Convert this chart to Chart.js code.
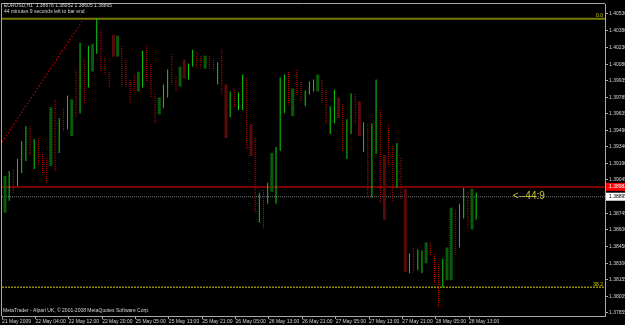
<!DOCTYPE html>
<html>
<head>
<meta charset="utf-8">
<script src="https://cdn.jsdelivr.net/npm/chart.js@4.4.0/dist/chart.umd.min.js"></script>
<style>
  html, body { margin: 0; padding: 0; background: #000; }
</style>
</head>
<body>
<canvas id="chart" width="625" height="325"></canvas>
<script>
// EURUSD H1 bars (one entry per hourly bar)
const barHigh = [
  1.39081, 1.39126, 1.39144, 1.39232, 1.39392, 1.39526, 1.39526, 1.39410, 1.39419, 1.39286,
  1.39250, 1.39695, 1.39766, 1.39597, 1.39686, 1.39801, 1.39766, 1.40041, 1.40272, 1.40130,
  1.40246, 1.40263, 1.40486, 1.40397, 1.40148, 1.40014, 1.40344, 1.40335, 1.40246, 1.40121,
  1.39944, 1.39988, 1.40014, 1.40201, 1.40255, 1.40086, 1.39819, 1.39783, 1.39899, 1.40032,
  1.40175, 1.39970, 1.40059, 1.40121, 1.40086, 1.40210, 1.40192, 1.40157, 1.40157, 1.40157,
  1.40130, 1.40095, 1.40219, 1.39899, 1.39837, 1.39864, 1.39828, 1.39988, 1.39961, 1.39544,
  1.39428, 1.38930, 1.38957, 1.39019, 1.39286, 1.39339, 1.39961, 1.39988, 1.40014, 1.39864,
  1.40032, 1.39926, 1.39846, 1.39926, 1.39944, 1.39988, 1.39944, 1.39846, 1.39704, 1.39855,
  1.39783, 1.39730, 1.39587, 1.39819, 1.39819, 1.39748, 1.39561, 1.39544, 1.39552, 1.39944,
  1.39677, 1.39268, 1.39544, 1.39357, 1.39375, 1.39241, 1.38966, 1.38388, 1.38441, 1.38423,
  1.38414, 1.38486, 1.38486, 1.38388, 1.38308, 1.38343, 1.38441, 1.38797, 1.38779, 1.38832,
  1.38974, 1.38948, 1.38966, 1.38930
];
const barLow = [
  1.38752, 1.38859, 1.38930, 1.38992, 1.39108, 1.39214, 1.39259, 1.39144, 1.39170, 1.39108,
  1.39019, 1.39170, 1.39126, 1.39286, 1.39481, 1.39499, 1.39437, 1.39606, 1.39641, 1.39730,
  1.39872, 1.40014, 1.40175, 1.40014, 1.39988, 1.39872, 1.40148, 1.40148, 1.39881, 1.39881,
  1.39730, 1.39837, 1.39837, 1.39872, 1.39926, 1.39783, 1.39552, 1.39632, 1.39686, 1.39783,
  1.39899, 1.39837, 1.39881, 1.39952, 1.39944, 1.40059, 1.40041, 1.40041, 1.40041, 1.40041,
  1.40024, 1.39899, 1.39810, 1.39419, 1.39606, 1.39686, 1.39668, 1.39668, 1.39312, 1.39259,
  1.38752, 1.38664, 1.38610, 1.38832, 1.38939, 1.38832, 1.39303, 1.39641, 1.39721, 1.39615,
  1.39810, 1.39748, 1.39704, 1.39810, 1.39837, 1.39837, 1.39739, 1.39544, 1.39455, 1.39552,
  1.39597, 1.39303, 1.39232, 1.39455, 1.39544, 1.39437, 1.39295, 1.38886, 1.38886, 1.39277,
  1.38841, 1.38690, 1.39170, 1.38859, 1.38975, 1.38877, 1.38219, 1.38210, 1.38219, 1.38237,
  1.38210, 1.38299, 1.38370, 1.38121, 1.37899, 1.38086, 1.38148, 1.38148, 1.38370, 1.38441,
  1.38700, 1.38610, 1.38601, 1.38690
];
// G bright up bar, R dotted down bar, g dark up body, r dark down body
const barStyle = (
  "gGRGGGRGRR" + "RgRGRGgRGR" + "GgGRRRrgRR" + "RRgGRRRgGG" + "RRgrGGRRgR" +
  "RGRrGRGGRr" + "RGRGgGGGRg" + "RRGGGgRRGG" + "rRGGRrGRGG" + "RrRRGRrGRG" +
  "GgRRRGggRG" + "GRgG"
).split("");

const xTickLabels = [
  "21 May 2009", "22 May 04:00", "22 May 12:00", "22 May 20:00", "25 May 05:00",
  "25 May 13:00", "25 May 21:00", "26 May 05:00", "26 May 13:00", "26 May 21:00",
  "27 May 05:00", "27 May 13:00", "27 May 21:00", "28 May 05:00", "28 May 13:00"
];
const yTickValues = [
  1.40530, 1.40380, 1.40230, 1.40080, 1.39935, 1.39785, 1.39635, 1.39490, 1.39340, 1.39190,
  1.39045, 1.38895, 1.38745, 1.38600, 1.38450, 1.38300, 1.38155, 1.38005, 1.37855
];

// horizontal objects on the chart
const fibTopLevel = 1.40486;     // "0.0"
const fibLowLevel = 1.38086;     // "38.2"
const resistLevel = 1.38983;     // red line
const bidPrice = 1.38895;        // grey bid line
const fibTrend = [{ x: -0.72, y: 1.39384 }, { x: 18.7, y: 1.40477 }];

const xMin = -0.72, xMax = 143.9;
const yMin = 1.37828, yMax = 1.40619;

const textColor = '#d4d4d4';
const frameColor = '#a8a8a8';
const fontFamily = "'Liberation Sans', Arial, sans-serif";

// dotted red fill for down bars
function dottedPattern(color) {
  const p = document.createElement('canvas');
  p.width = 1; p.height = 2;
  const pc = p.getContext('2d');
  pc.fillStyle = color;
  pc.fillRect(0, 0, 1, 1);
  return pc.createPattern(p, 'repeat');
}

function barsOf(code) {
  const out = [];
  barStyle.forEach((s, i) => {
    if (s === code) out.push({ x: i, y: [barLow[i], barHigh[i]] });
  });
  return out;
}

function hLine(v) {
  return [{ x: xMin, y: v }, { x: xMax, y: v }];
}

const mt4Overlay = {
  id: 'mt4Overlay',
  beforeDraw(chart) {
    const c = chart.ctx;
    c.save();
    c.fillStyle = '#000';
    c.fillRect(0, 0, chart.width, chart.height);
    c.restore();
  },
  afterDraw(chart) {
    const c = chart.ctx, a = chart.chartArea;
    const sx = chart.scales.x, sy = chart.scales.y;
    c.save();

    // top and left frame
    c.strokeStyle = frameColor;
    c.lineWidth = 1;
    c.beginPath();
    c.moveTo(a.left - 0.5, a.bottom);
    c.lineTo(a.left - 0.5, a.top - 0.5);
    c.lineTo(a.right, a.top - 0.5);
    c.stroke();

    // header and footer text
    c.font = '5px ' + fontFamily;
    c.fillStyle = textColor;
    c.textBaseline = 'middle';
    c.textAlign = 'left';
    c.fillText('EURUSD,H1  1.38676 1.38952 1.38605 1.38895', 4, 6);
    c.fillText('44 minutes 9 seconds left to bar end', 4, 12);
    c.fillText('MetaTrader - Alpari UK, \u00a9 2001-2008 MetaQuotes Software Corp.', 3, 311);

    // fibo level captions
    c.fillStyle = '#d0d000';
    c.textAlign = 'right';
    c.fillText('0.0', a.right - 2, sy.getPixelForValue(fibTopLevel) - 3);
    c.fillText('38.2', a.right - 2, sy.getPixelForValue(fibLowLevel) - 3);

    // countdown label
    c.font = '10px ' + fontFamily;
    c.fillStyle = '#c8c832';
    c.textAlign = 'left';
    c.fillText('<--44:9', sx.getPixelForValue(121.8), sy.getPixelForValue(bidPrice));

    // price boxes on the axis
    c.font = '5px ' + fontFamily;
    const ry = sy.getPixelForValue(resistLevel);
    c.fillStyle = '#ff0000';
    c.fillRect(a.right + 1, ry - 4, chart.width - a.right, 8);
    c.fillStyle = '#ffffff';
    c.fillText(resistLevel.toFixed(5), a.right + 4, ry);
    const by = sy.getPixelForValue(bidPrice);
    c.fillStyle = '#ffffff';
    c.fillRect(a.right + 1, by - 4, chart.width - a.right, 8);
    c.fillStyle = '#000000';
    c.fillText(bidPrice.toFixed(5), a.right + 4, by);

    c.restore();
  }
};

Chart.defaults.font.family = fontFamily;
Chart.defaults.font.size = 5;
Chart.defaults.color = textColor;

const redDots = dottedPattern('#e00000');

new Chart(document.getElementById('chart'), {
  type: 'bar',
  data: {
    datasets: [
      { type: 'line', data: hLine(fibTopLevel), borderColor: '#7a7a00', borderWidth: 2, pointRadius: 0, order: 5 },
      { type: 'line', data: hLine(fibLowLevel), borderColor: '#8c8c00', borderWidth: 1.5, borderDash: [2, 1], pointRadius: 0, order: 5 },
      { type: 'line', data: hLine(resistLevel), borderColor: '#7c0000', borderWidth: 2, pointRadius: 0, order: 5 },
      { type: 'line', data: hLine(bidPrice), borderColor: '#6e7676', borderWidth: 1, borderDash: [1, 1], pointRadius: 0, order: 5 },
      { type: 'line', data: fibTrend, borderColor: '#c00000', borderWidth: 1.2, borderDash: [1.5, 2], pointRadius: 0, order: 5 },
      { data: barsOf('g'), backgroundColor: '#0a5a0a', barThickness: 3, inflateAmount: 0, grouped: false, order: 3 },
      { data: barsOf('r'), backgroundColor: '#5a0a0a', barThickness: 3, inflateAmount: 0, grouped: false, order: 3 },
      { data: barsOf('G'), backgroundColor: '#10d010', barThickness: 1, inflateAmount: 0, grouped: false, order: 1 },
      { data: barsOf('R'), backgroundColor: redDots, barThickness: 1, inflateAmount: 0, grouped: false, order: 1 }
    ]
  },
  options: {
    responsive: false,
    animation: false,
    events: [],
    layout: { padding: { left: 2, top: 2, right: 0, bottom: 0 } },
    plugins: { legend: { display: false }, tooltip: { enabled: false } },
    scales: {
      x: {
        type: 'linear',
        min: xMin,
        max: xMax,
        offset: false,
        grid: { drawOnChartArea: false, tickLength: 3, color: frameColor, offset: false },
        border: { color: frameColor },
        ticks: {
          align: 'start', maxRotation: 0, autoSkip: false, padding: 0, color: textColor,
          callback: (v, i) => xTickLabels[i]
        },
        afterBuildTicks: s => { s.ticks = xTickLabels.map((t, k) => ({ value: 8 * k - 0.7 })); },
        afterFit: s => { s.height = 9; }
      },
      y: {
        position: 'right',
        min: yMin,
        max: yMax,
        grid: { drawOnChartArea: false, tickLength: 3, color: frameColor },
        border: { color: frameColor },
        ticks: { autoSkip: false, padding: 1, color: textColor, callback: v => v.toFixed(5) },
        afterBuildTicks: s => { s.ticks = yTickValues.map(v => ({ value: v })); },
        afterFit: s => { s.width = 20; }
      }
    }
  },
  plugins: [mt4Overlay]
});
</script>
</body>
</html>
